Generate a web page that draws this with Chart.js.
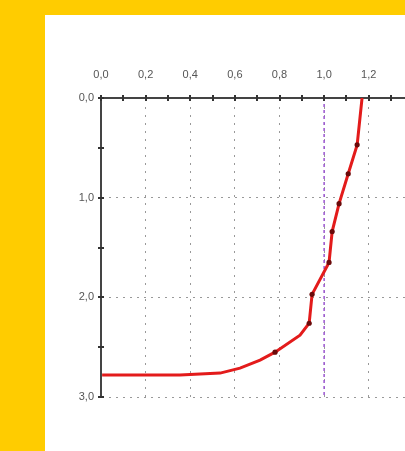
<!DOCTYPE html>
<html>
<head>
<meta charset="utf-8">
<script src="https://cdn.jsdelivr.net/npm/chart.js@4/dist/chart.umd.min.js"></script>
<style>
  html, body { margin: 0; padding: 0; width: 405px; height: 451px; overflow: hidden; background: #FFCC00; }
  #panel { position: absolute; left: 45px; top: 15px; width: 440px; height: 436px; background: #ffffff; }
  #chart { display: block; }
</style>
</head>
<body>
<div id="panel"><canvas id="chart" width="440" height="436"></canvas></div>
<script>
// Profile: ratio (x) against depth (y, downward)
const depth = [0.00, 0.47, 0.76, 1.06, 1.34, 1.65, 1.97, 2.26, 2.38, 2.55, 2.63, 2.71, 2.76, 2.78, 2.78];
const ratio = [1.170, 1.148, 1.108, 1.067, 1.036, 1.022, 0.946, 0.933, 0.892, 0.780, 0.713, 0.623, 0.534, 0.354, 0.005];
const measured = [false, true, true, true, true, true, true, true, false, true, false, false, false, false, false];

// Reference line at ratio = 1
const refRatio = [1.0, 1.0];
const refDepth = [0.0, 3.0];

const xMin = 0, xMax = 1.6, xStep = 0.1;
const yMin = 0, yMax = 3, yStep = 0.5;

const fmt = v => v.toFixed(1).replace('.', ',');
const isEvenTenth = v => Math.round(v * 10) % 2 === 0;
const isWhole = v => Math.abs(v - Math.round(v)) < 1e-6;

// Small cross-ticks centred on the axis lines
const axisTicks = {
  id: 'axisTicks',
  afterDraw(chart) {
    const { ctx, chartArea, scales } = chart;
    ctx.save();
    ctx.strokeStyle = '#333';
    ctx.lineWidth = 2;
    scales.x.ticks.forEach(t => {
      const px = Math.round(scales.x.getPixelForValue(t.value));
      ctx.beginPath();
      ctx.moveTo(px, chartArea.top - 3);
      ctx.lineTo(px, chartArea.top + 3);
      ctx.stroke();
    });
    scales.y.ticks.forEach(t => {
      const py = Math.round(scales.y.getPixelForValue(t.value));
      ctx.beginPath();
      ctx.moveTo(chartArea.left - 3, py);
      ctx.lineTo(chartArea.left + 3, py);
      ctx.stroke();
    });
    ctx.restore();
  }
};

new Chart(document.getElementById('chart'), {
  type: 'scatter',
  data: {
    datasets: [
      {
        data: refRatio.map((x, i) => ({ x, y: refDepth[i] })),
        showLine: true,
        borderColor: '#9a55d0',
        borderWidth: 1.5,
        borderDash: [3, 3],
        pointRadius: 0,
        order: 2
      },
      {
        data: ratio.map((x, i) => ({ x, y: depth[i] })),
        showLine: true,
        borderColor: '#e31b1b',
        borderWidth: 3,
        tension: 0,
        pointRadius: measured.map(m => m ? 2.6 : 0),
        pointBackgroundColor: '#6a0a0a',
        pointBorderColor: '#6a0a0a',
        pointBorderWidth: 0,
        order: 1
      }
    ]
  },
  options: {
    responsive: false,
    animation: false,
    layout: { padding: { left: 0, right: 27, top: 0, bottom: 54 } },
    plugins: { legend: { display: false }, tooltip: { enabled: false } },
    scales: {
      x: {
        type: 'linear',
        position: 'top',
        min: xMin, max: xMax,
        afterFit: s => { s.height = 83; s.paddingRight = 0; s.paddingLeft = 0; },
        ticks: {
          stepSize: xStep,
          autoSkip: false,
          maxRotation: 0,
          padding: 16,
          color: '#555',
          font: { family: 'Liberation Sans, Arial, sans-serif', size: 11 },
          callback: v => isEvenTenth(v) ? fmt(v) : ''
        },
        grid: {
          drawTicks: false,
          color: c => (c.tick && isEvenTenth(c.tick.value) && c.tick.value > 0) ? '#999' : 'rgba(0,0,0,0)',
          lineWidth: 1
        },
        border: { display: true, color: '#444', width: 2, dash: [2, 6] }
      },
      y: {
        type: 'linear',
        reverse: true,
        min: yMin, max: yMax,
        afterFit: s => { s.width = 56; },
        ticks: {
          stepSize: yStep,
          autoSkip: false,
          padding: 7,
          color: '#555',
          font: { family: 'Liberation Sans, Arial, sans-serif', size: 11 },
          callback: v => isWhole(v) ? fmt(v) : ''
        },
        grid: {
          drawTicks: false,
          color: c => (c.tick && isWhole(c.tick.value) && c.tick.value > 0) ? '#999' : 'rgba(0,0,0,0)',
          lineWidth: 1
        },
        border: { display: true, color: '#444', width: 2, dash: [2, 5] }
      }
    }
  },
  plugins: [axisTicks]
});
</script>
</body>
</html>
